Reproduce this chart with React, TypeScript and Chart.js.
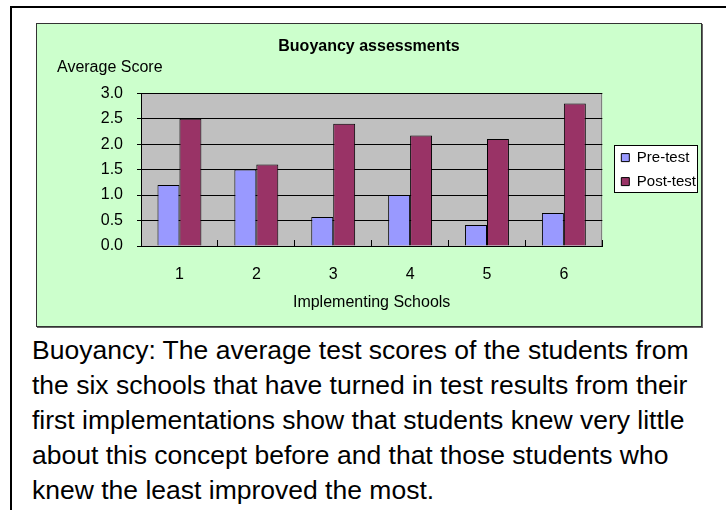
import React, { useEffect, useRef } from "react";
import { Chart, registerables } from "chart.js";

Chart.register(...registerables);

const categories = ["1", "2", "3", "4", "5", "6"];
const preTest = [1.2, 1.5, 0.57, 1.0, 0.41, 0.65];
const postTest = [2.5, 1.6, 2.4, 2.17, 2.1, 2.8];
const seriesNames = ["Pre-test", "Post-test"];
const yMin = 0;
const yMax = 3;
const yStep = 0.5;
const chartTitle = "Buoyancy assessments";
const yTitle = "Average Score";
const xTitle = "Implementing Schools";
const captionLines = [
  "Buoyancy: The average test scores of the students from",
  "the six schools that have turned in test results from their",
  "first implementations show that students knew very little",
  "about this concept before and that those students who",
  "knew the least improved the most.",
];

const FONT = '"Liberation Sans", Arial, Helvetica, sans-serif';

const decorPlugin = {
  id: "decor",
  beforeDraw(chart: any) {
    const { ctx, chartArea } = chart;
    ctx.save();
    ctx.fillStyle = "#C0C0C0";
    ctx.fillRect(chartArea.left, chartArea.top, chartArea.right - chartArea.left, chartArea.bottom - chartArea.top);
    ctx.strokeStyle = "#808080";
    ctx.lineWidth = 1;
    ctx.beginPath();
    ctx.moveTo(Math.round(chartArea.right) - 0.5, chartArea.top);
    ctx.lineTo(Math.round(chartArea.right) - 0.5, chartArea.bottom);
    ctx.stroke();
    // legend frame
    const lg = chart.legend;
    if (lg && lg.legendHitBoxes && lg.legendHitBoxes.length) {
      const hb = lg.legendHitBoxes;
      let l = Infinity, t = Infinity, r = -Infinity, b = -Infinity;
      for (const h of hb) {
        l = Math.min(l, h.left);
        t = Math.min(t, h.top);
        r = Math.max(r, h.left + h.width);
        b = Math.max(b, h.top + h.height);
      }
      const x0 = Math.round(l - 7) + 0.5;
      const y0 = Math.round(t - 5) + 0.5;
      const x1 = Math.round(r + 1) + 0.5;
      const y1 = Math.round(b + 3) + 0.5;
      ctx.fillStyle = "#FFFFFF";
      ctx.fillRect(x0, y0, x1 - x0, y1 - y0);
      ctx.strokeStyle = "#000000";
      ctx.strokeRect(x0, y0, x1 - x0, y1 - y0);
    }
    ctx.restore();
  },
  afterDraw(chart: any) {
    const { ctx, chartArea } = chart;
    ctx.save();
    ctx.fillStyle = "#000";
    ctx.font = `16px ${FONT}`;
    ctx.textAlign = "left";
    ctx.textBaseline = "middle";
    ctx.fillText(yTitle, chartArea.left - 84, chartArea.top - 26);
    ctx.restore();
  },
};

function BarChart() {
  const ref = useRef<HTMLCanvasElement | null>(null);
  useEffect(() => {
    if (!ref.current) return;
    Chart.defaults.font.family = FONT;
    Chart.defaults.color = "#000";
    const chart = new Chart(ref.current, {
      type: "bar",
      data: {
        labels: categories,
        datasets: [
          {
            label: seriesNames[0],
            data: preTest,
            backgroundColor: "#9999FF",
            borderColor: "#000000",
            borderWidth: 1,
            categoryPercentage: 0.571,
            barPercentage: 1,
          },
          {
            label: seriesNames[1],
            data: postTest,
            backgroundColor: "#993366",
            borderColor: "#000000",
            borderWidth: 1,
            categoryPercentage: 0.571,
            barPercentage: 1,
          },
        ],
      },
      options: {
        responsive: false,
        animation: false,
        devicePixelRatio: 1,
        layout: { padding: { left: -5, right: -5, top: 0, bottom: 0 } },
        plugins: {
          title: {
            display: true,
            text: chartTitle,
            color: "#000",
            font: { size: 16, weight: "bold", family: FONT },
            padding: { top: 13, bottom: 37 },
          },
          legend: {
            position: "right",
            fullSize: false,
            labels: {
              boxWidth: 8,
              boxHeight: 8,
              padding: 9,
              color: "#000",
              font: { size: 15, family: FONT },
            },
          },
          tooltip: { enabled: false },
        },
        scales: {
          x: {
            grid: {
              display: true,
              offset: true,
              drawOnChartArea: false,
              drawTicks: true,
              tickLength: -6,
              color: "#000",
            },
            border: { display: true, color: "#000" },
            ticks: { color: "#000", font: { size: 16 }, padding: 25 },
            title: {
              display: true,
              text: xTitle,
              color: "#000",
              font: { size: 16 },
              padding: { top: 0, bottom: 14 },
            },
            afterFit: (s: any) => {
              s.height = 80;
            },
          },
          y: {
            min: yMin,
            max: yMax,
            ticks: {
              stepSize: yStep,
              color: "#000",
              font: { size: 16 },
              padding: 14,
              callback: (v: any) => Number(v).toFixed(1),
            },
            grid: { color: "#000", tickLength: 4, lineWidth: 1 },
            border: { display: true, color: "#000" },
            afterFit: (s: any) => {
              s.width = 109;
            },
          },
          y2: {
            type: "linear",
            position: "right",
            display: true,
            grid: { display: false },
            border: { display: false },
            ticks: { display: false },
            afterFit: (s: any) => {
              s.width = 10;
            },
          },
        },
      } as any,
      plugins: [decorPlugin],
    });
    return () => chart.destroy();
  }, []);
  return <canvas ref={ref} width={664} height={302} style={{ width: 664, height: 302, display: "block" }} />;
}

export default function App() {
  return (
    <div
      style={{
        position: "fixed",
        left: 0,
        top: 0,
        width: 726,
        height: 510,
        overflow: "hidden",
        background: "#fff",
      }}
    >
      <div
        style={{
          position: "absolute",
          left: 10,
          top: 6,
          width: 800,
          height: 600,
          borderLeft: "2px solid #000",
          borderTop: "2px solid #000",
        }}
      />
      <div
        style={{
          position: "absolute",
          left: 36,
          top: 23,
          width: 666,
          height: 304,
          boxSizing: "border-box",
          border: "1px solid #333",
          boxShadow: "1px 1px 0 #666",
          background: "#CCFFCC",
        }}
      >
        <BarChart />
      </div>
      <div
        style={{
          position: "absolute",
          left: 32,
          top: 333,
          fontFamily: FONT,
          fontSize: 26.5,
          lineHeight: "35px",
          color: "#000",
          whiteSpace: "pre",
        }}
      >
        {captionLines.map((l, i) => (
          <div key={i}>{l}</div>
        ))}
      </div>
    </div>
  );
}
